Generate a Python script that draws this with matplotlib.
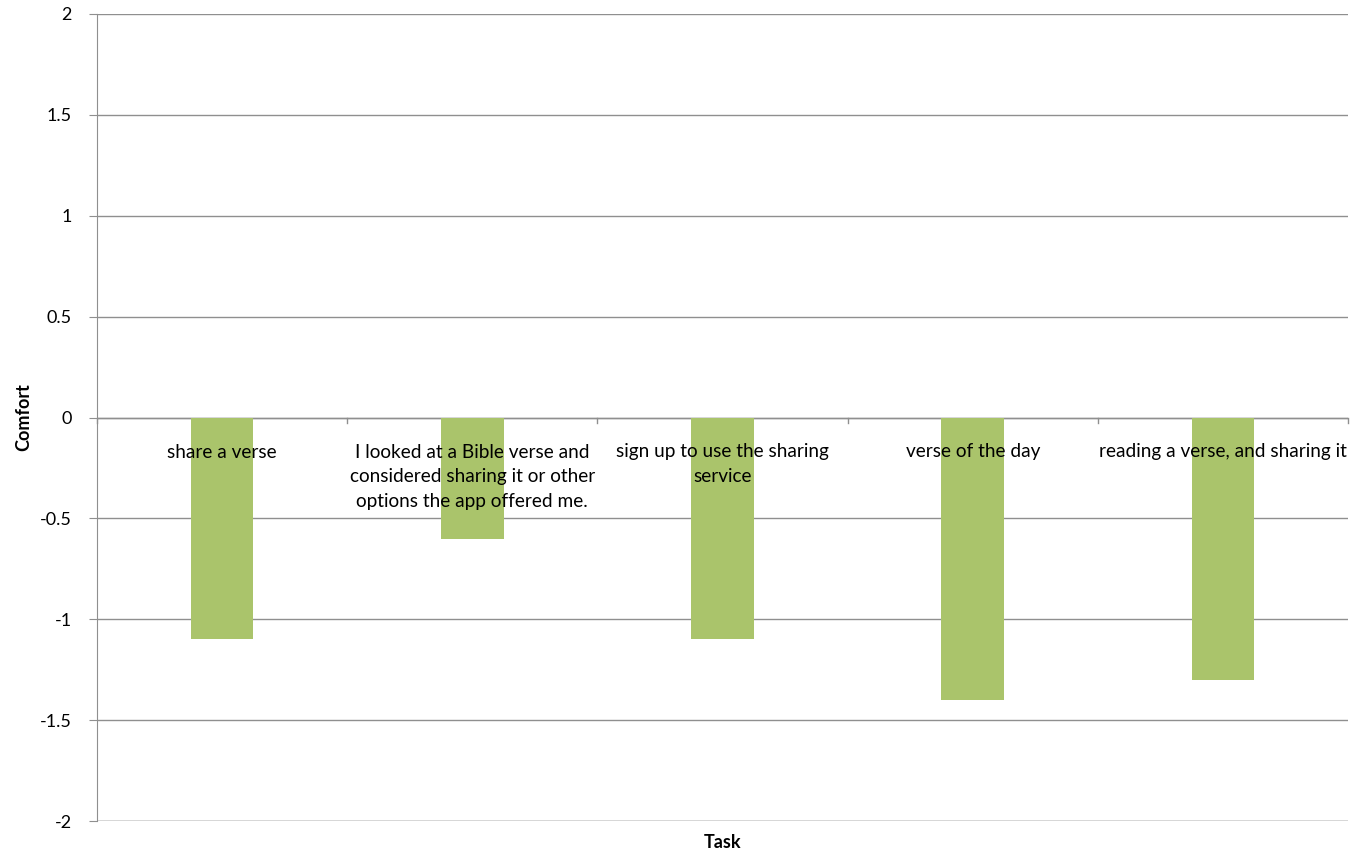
import numpy as np
import matplotlib.pyplot as plt

plt.rcParams['font.family'] = ['Lato', 'DejaVu Sans']

# task categories and mean comfort score
tasks = ['share a verse',
         'I looked at a Bible verse and\nconsidered sharing it or other\noptions the app offered me.',
         'sign up to use the sharing\nservice',
         'verse of the day',
         'reading a verse, and sharing it']
comfort = [-1.1, -0.6, -1.1, -1.4, -1.3]
yticks = [-2, -1.5, -1, -0.5, 0, 0.5, 1, 1.5, 2]
ylabels = ['-2', '-1.5', '-1', '-0.5', '0', '0.5', '1', '1.5', '2']

fig = plt.figure(figsize=(13.68, 8.52), dpi=100)
ax = fig.add_axes([97/1368, 1 - 821/852, (1348 - 97)/1368, (821 - 14)/852])

x = np.arange(len(tasks))
ax.bar(x, comfort, width=0.25, color='#aac46b', zorder=2)

ax.set_xlim(-0.5, len(tasks) - 0.5)
ax.set_ylim(-2, 2)
ax.set_yticks(yticks)
ax.set_yticklabels(ylabels, fontsize=13)
ax.grid(axis='y', color='#8f8f8f', linewidth=1, zorder=0)
ax.tick_params(axis='y', length=6, color='#8f8f8f', pad=12)

# category axis sits on the zero line
ax.set_xticks([])
for s in ['top', 'right', 'bottom']:
    ax.spines[s].set_visible(False)
ax.spines['left'].set_color('#8f8f8f')
ax.axhline(-2, color='#8f8f8f', linewidth=1, zorder=1)
ax.axhline(0, color='#8f8f8f', linewidth=1, zorder=1)
for b in np.arange(len(tasks) + 1) - 0.5:
    ax.plot([b, b], [0, -0.025], color='#8f8f8f', linewidth=1, zorder=1, clip_on=False)

for i, t in enumerate(tasks):
    ax.annotate(t, (i, 0), xytext=(0, -26), textcoords='offset pixels',
                ha='center', va='top', fontsize=13.7, linespacing=1.55, zorder=3)

ax.set_ylabel('Comfort', fontsize=13, fontweight='bold', labelpad=6)
ax.set_xlabel('Task', fontsize=13, fontweight='bold', labelpad=9)

plt.savefig('out.png', dpi=100)
